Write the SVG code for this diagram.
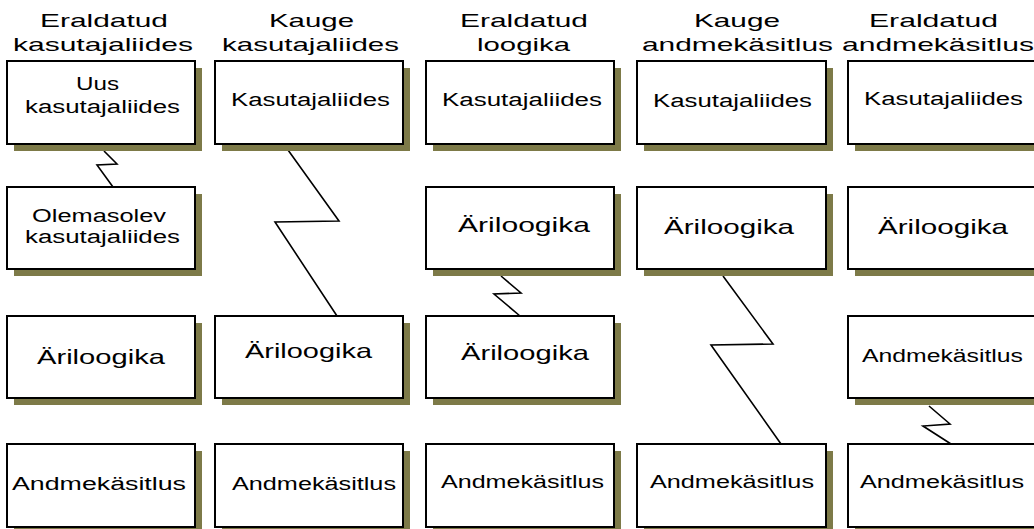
<svg xmlns="http://www.w3.org/2000/svg" width="1034" height="529" viewBox="0 0 1034 529">
<style>
.sh{fill:#7d7a48}
.bx{fill:#fff;stroke:#000;stroke-width:2}
.hd{font-family:"Liberation Sans",Arial,sans-serif;font-size:19px;fill:#000}
.t{font-family:"Liberation Sans",Arial,sans-serif;font-size:18px;fill:#000}
.tb{font-family:"Liberation Sans",Arial,sans-serif;font-size:21px;fill:#000}
.cn{fill:none;stroke:#000;stroke-width:1.6;stroke-linejoin:miter}
</style>
<rect width="1034" height="529" fill="#fff"/>
<g id="headers">
<text class="hd" x="40" y="27" textLength="128" lengthAdjust="spacingAndGlyphs">Eraldatud</text>
<text class="hd" x="13" y="51" textLength="180" lengthAdjust="spacingAndGlyphs">kasutajaliides</text>
<text class="hd" x="269" y="27" textLength="85" lengthAdjust="spacingAndGlyphs">Kauge</text>
<text class="hd" x="222" y="51" textLength="177" lengthAdjust="spacingAndGlyphs">kasutajaliides</text>
<text class="hd" x="460" y="27" textLength="128" lengthAdjust="spacingAndGlyphs">Eraldatud</text>
<text class="hd" x="477" y="51" textLength="93" lengthAdjust="spacingAndGlyphs">loogika</text>
<text class="hd" x="694" y="27" textLength="86" lengthAdjust="spacingAndGlyphs">Kauge</text>
<text class="hd" x="642" y="51" textLength="191" lengthAdjust="spacingAndGlyphs">andmekäsitlus</text>
<text class="hd" x="869" y="27" textLength="129" lengthAdjust="spacingAndGlyphs">Eraldatud</text>
<text class="hd" x="842" y="51" textLength="192" lengthAdjust="spacingAndGlyphs">andmekäsitlus</text>
</g>
<g id="connectors">
<polyline class="cn" points="104,151 117,164 97,165 113,187"/>
<polyline class="cn" points="288,150 339,221 275,222 337,316"/>
<polyline class="cn" points="501,276 521,293 494,294 520,316"/>
<polyline class="cn" points="723,276 773,344 711,345 781,444"/>
<polyline class="cn" points="929,406 950,424 923,426 951,444"/>
</g>
<g id="n-c1r1"><rect class="sh" x="14" y="68" width="188" height="83"/><rect class="bx" x="7" y="61" width="188" height="83"/>
<text class="t" x="76" y="90" textLength="43" lengthAdjust="spacingAndGlyphs">Uus</text>
<text class="t" x="25" y="113" textLength="155" lengthAdjust="spacingAndGlyphs">kasutajaliides</text></g>
<g id="n-c1r2"><rect class="sh" x="14" y="194" width="188" height="82"/><rect class="bx" x="7" y="187" width="188" height="82"/>
<text class="t" x="32" y="222" textLength="134" lengthAdjust="spacingAndGlyphs">Olemasolev</text>
<text class="t" x="25" y="243" textLength="155" lengthAdjust="spacingAndGlyphs">kasutajaliides</text></g>
<g id="n-c1r3"><rect class="sh" x="14" y="323" width="188" height="82"/><rect class="bx" x="7" y="316" width="188" height="82"/>
<text class="tb" x="37" y="364" textLength="128" lengthAdjust="spacingAndGlyphs">Äriloogika</text></g>
<g id="n-c1r4"><rect class="sh" x="14" y="451" width="188" height="83"/><rect class="bx" x="7" y="444" width="188" height="83"/>
<text class="t" x="12" y="490" textLength="174" lengthAdjust="spacingAndGlyphs">Andmekäsitlus</text></g>

<g id="n-c2r1"><rect class="sh" x="222" y="68" width="188" height="83"/><rect class="bx" x="215" y="61" width="188" height="83"/>
<text class="t" x="231" y="106" textLength="159" lengthAdjust="spacingAndGlyphs">Kasutajaliides</text></g>
<g id="n-c2r3"><rect class="sh" x="222" y="323" width="188" height="82"/><rect class="bx" x="215" y="316" width="188" height="82"/>
<text class="tb" x="245" y="358" textLength="127" lengthAdjust="spacingAndGlyphs">Äriloogika</text></g>
<g id="n-c2r4"><rect class="sh" x="222" y="451" width="188" height="83"/><rect class="bx" x="215" y="444" width="188" height="83"/>
<text class="t" x="232" y="490" textLength="164" lengthAdjust="spacingAndGlyphs">Andmekäsitlus</text></g>

<g id="n-c3r1"><rect class="sh" x="433" y="68" width="188" height="83"/><rect class="bx" x="426" y="61" width="188" height="83"/>
<text class="t" x="442" y="106" textLength="160" lengthAdjust="spacingAndGlyphs">Kasutajaliides</text></g>
<g id="n-c3r2"><rect class="sh" x="433" y="194" width="188" height="82"/><rect class="bx" x="426" y="187" width="188" height="82"/>
<text class="tb" x="458" y="232" textLength="132" lengthAdjust="spacingAndGlyphs">Äriloogika</text></g>
<g id="n-c3r3"><rect class="sh" x="433" y="323" width="188" height="82"/><rect class="bx" x="426" y="316" width="188" height="82"/>
<text class="tb" x="461" y="360" textLength="128" lengthAdjust="spacingAndGlyphs">Äriloogika</text></g>
<g id="n-c3r4"><rect class="sh" x="433" y="451" width="188" height="83"/><rect class="bx" x="426" y="444" width="188" height="83"/>
<text class="t" x="441" y="488" textLength="163" lengthAdjust="spacingAndGlyphs">Andmekäsitlus</text></g>

<g id="n-c4r1"><rect class="sh" x="644" y="68" width="189" height="83"/><rect class="bx" x="637" y="61" width="189" height="83"/>
<text class="t" x="653" y="107" textLength="159" lengthAdjust="spacingAndGlyphs">Kasutajaliides</text></g>
<g id="n-c4r2"><rect class="sh" x="644" y="194" width="189" height="82"/><rect class="bx" x="637" y="187" width="189" height="82"/>
<text class="tb" x="664" y="234" textLength="130" lengthAdjust="spacingAndGlyphs">Äriloogika</text></g>
<g id="n-c4r4"><rect class="sh" x="644" y="451" width="189" height="83"/><rect class="bx" x="637" y="444" width="189" height="83"/>
<text class="t" x="650" y="488" textLength="164" lengthAdjust="spacingAndGlyphs">Andmekäsitlus</text></g>

<g id="n-c5r1"><rect class="sh" x="855" y="68" width="189" height="83"/><rect class="bx" x="848" y="61" width="189" height="83"/>
<text class="t" x="864" y="105" textLength="159" lengthAdjust="spacingAndGlyphs">Kasutajaliides</text></g>
<g id="n-c5r2"><rect class="sh" x="855" y="194" width="189" height="82"/><rect class="bx" x="848" y="187" width="189" height="82"/>
<text class="tb" x="878" y="234" textLength="130" lengthAdjust="spacingAndGlyphs">Äriloogika</text></g>
<g id="n-c5r3"><rect class="sh" x="855" y="323" width="189" height="82"/><rect class="bx" x="848" y="316" width="189" height="82"/>
<text class="t" x="862" y="362" textLength="161" lengthAdjust="spacingAndGlyphs">Andmekäsitlus</text></g>
<g id="n-c5r4"><rect class="sh" x="855" y="451" width="189" height="83"/><rect class="bx" x="848" y="444" width="189" height="83"/>
<text class="t" x="860" y="488" textLength="164" lengthAdjust="spacingAndGlyphs">Andmekäsitlus</text></g>
</svg>
